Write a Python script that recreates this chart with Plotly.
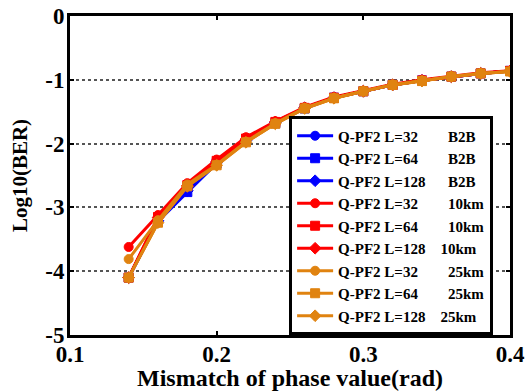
import plotly.graph_objects as go

x = [0.14, 0.16, 0.18, 0.20, 0.22, 0.24, 0.26, 0.28, 0.30, 0.32, 0.34, 0.36, 0.38, 0.40]

b2b_32 = [-4.10, -3.20, -2.72, -2.29, -1.94, -1.67, -1.44, -1.28, -1.18, -1.08, -1.01, -0.95, -0.90, -0.86]
b2b_64 = [-4.10, -3.22, -2.76, -2.31, -1.95, -1.68, -1.45, -1.28, -1.18, -1.08, -1.01, -0.95, -0.90, -0.86]
b2b_128 = [-4.10, -3.21, -2.74, -2.30, -1.95, -1.67, -1.44, -1.28, -1.18, -1.08, -1.01, -0.95, -0.90, -0.86]
km10_32 = [-3.62, -3.12, -2.62, -2.25, -1.90, -1.65, -1.43, -1.27, -1.17, -1.07, -1.00, -0.94, -0.89, -0.86]
km10_64 = [-4.10, -3.15, -2.65, -2.27, -1.92, -1.66, -1.44, -1.28, -1.18, -1.08, -1.01, -0.95, -0.90, -0.86]
km10_128 = [-4.10, -3.16, -2.66, -2.28, -1.93, -1.66, -1.44, -1.28, -1.18, -1.08, -1.01, -0.95, -0.90, -0.86]
km25_32 = [-3.81, -3.20, -2.64, -2.33, -1.97, -1.68, -1.44, -1.29, -1.18, -1.08, -1.01, -0.95, -0.90, -0.87]
km25_64 = [-4.10, -3.24, -2.67, -2.34, -1.98, -1.69, -1.45, -1.29, -1.18, -1.08, -1.02, -0.95, -0.90, -0.87]
km25_128 = [-4.10, -3.24, -2.67, -2.34, -1.98, -1.69, -1.45, -1.29, -1.18, -1.08, -1.02, -0.95, -0.90, -0.87]

S = "\u00a0"
names = [
    f"Q-PF2 L=32{S*8}B2B",
    f"Q-PF2 L=64{S*8}B2B",
    f"Q-PF2 L=128{S*6}B2B",
    f"Q-PF2 L=32{S*8}10km",
    f"Q-PF2 L=64{S*8}10km",
    f"Q-PF2 L=128{S*4}10km",
    f"Q-PF2 L=32{S*8}25km",
    f"Q-PF2 L=64{S*8}25km",
    f"Q-PF2 L=128{S*4}25km",
]
series = [b2b_32, b2b_64, b2b_128, km10_32, km10_64, km10_128, km25_32, km25_64, km25_128]
colors = ["#0000ff"] * 3 + ["#ff0000"] * 3 + ["#e08310"] * 3
symbols = ["circle", "square", "diamond"] * 3

fig = go.Figure()
for name, ys, c, sym in zip(names, series, colors, symbols):
    fig.add_trace(go.Scatter(
        x=x, y=ys, name=name, mode="lines+markers",
        line=dict(color=c, width=3),
        marker=dict(symbol=sym, size=9, color=c, line=dict(color=c, width=1)),
    ))

font_fam = "Liberation Serif, Times New Roman, serif"
fig.update_layout(
    width=527, height=391,
    margin=dict(l=70, r=17, t=16, b=56, autoexpand=False),
    paper_bgcolor="white", plot_bgcolor="white",
    font=dict(family=font_fam, color="black", size=20),
    showlegend=True,
    legend=dict(
        x=0.498, y=0.685, xanchor="left", yanchor="top",
        bgcolor="white", bordercolor="black", borderwidth=3,
        font=dict(family=font_fam, size=15, color="black", weight="bold"),
        itemwidth=36, tracegroupgap=0,
    ),
    xaxis=dict(
        range=[0.1, 0.4], tickvals=[0.1, 0.2, 0.3, 0.4], ticktext=["0.1", "0.2", "0.3", "0.4"],
        showline=True, linecolor="black", linewidth=3, mirror="ticks",
        ticks="inside", ticklen=4, tickwidth=2, tickcolor="black",
        showgrid=False, zeroline=False, automargin=False,
        ticklabelstandoff=-4,
        tickfont=dict(family=font_fam, size=23, weight="bold"),
        title=dict(text="Mismatch of phase value(rad)", standoff=3,
                   font=dict(family=font_fam, size=24, weight="bold")),
    ),
    yaxis=dict(
        range=[-5, 0], tickvals=[-5, -4, -3, -2, -1, 0], ticktext=["-5", "-4", "-3", "-2", "-1", "0"],
        showline=True, linecolor="black", linewidth=3, mirror="ticks",
        ticks="inside", ticklen=4, tickwidth=2, tickcolor="black",
        showgrid=True, gridcolor="#555555", griddash="dot", gridwidth=1.5,
        zeroline=False, automargin=False,
        ticklabelstandoff=-2,
        tickfont=dict(family=font_fam, size=23, weight="bold"),
        title=dict(text="Log10(BER)", standoff=12,
                   font=dict(family=font_fam, size=21, weight="bold")),
    ),
)

fig.write_html("out.html")
